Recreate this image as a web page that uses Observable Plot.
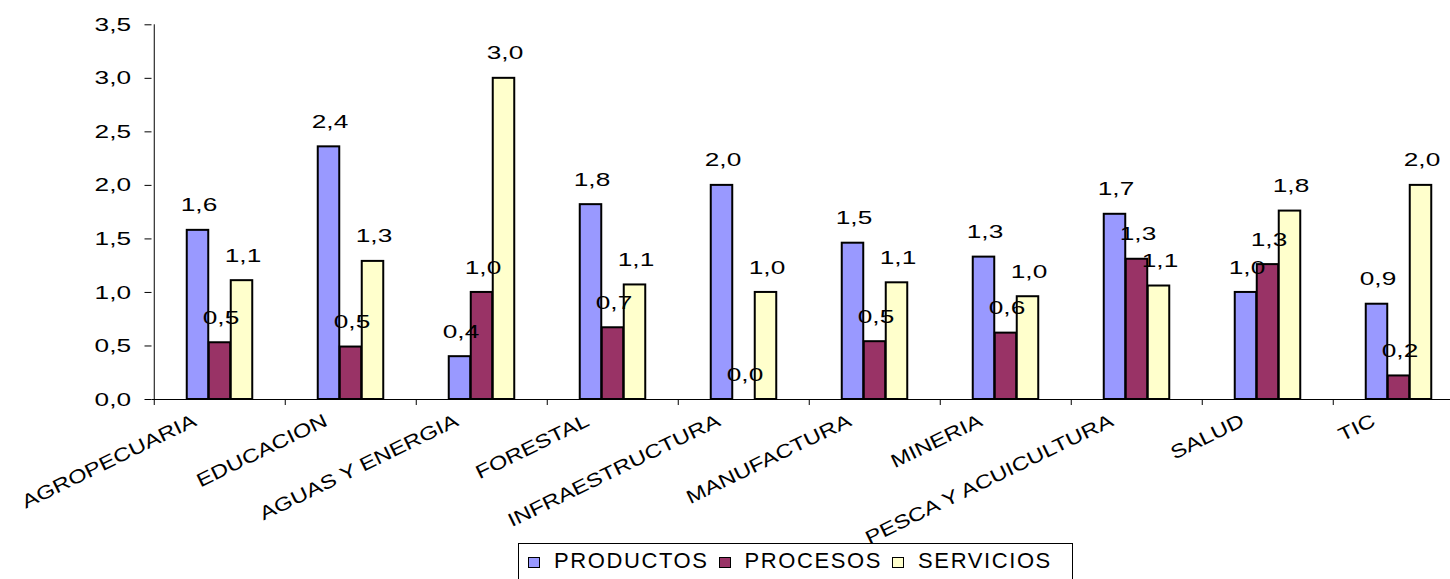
<!DOCTYPE html>
<html>
<head>
<meta charset="utf-8">
<script src="https://cdn.jsdelivr.net/npm/d3@7"></script>
<script src="https://cdn.jsdelivr.net/npm/@observablehq/plot@0.6"></script>
<style>
  html, body { margin: 0; padding: 0; background: #fff; overflow: hidden; width: 1450px; height: 579px; }
  #chart { position: absolute; left: 0; top: 0; }
  #legend {
    position: absolute; left: 518px; top: 543px; width: 555px; height: 44px;
    border: 1px solid #000; box-sizing: border-box; background: #fff;
    font-family: "Liberation Sans", Arial, sans-serif; font-size: 22px; line-height: 22px;
    padding: 6px 0 0 9px; white-space: nowrap; color: #000; letter-spacing: 1.6px;
  }
  #legend .sw { display: inline-block; width: 10px; height: 9px; border: 1.5px solid #000; vertical-align: baseline; margin-right: 14px; }
  #legend .it { margin-right: 10px; }
</style>
</head>
<body>
<div id="chart"></div>
<div id="legend"></div>
<script>
const categories = ["AGROPECUARIA", "EDUCACION", "AGUAS Y ENERGIA", "FORESTAL", "INFRAESTRUCTURA", "MANUFACTURA", "MINERIA", "PESCA Y ACUICULTURA", "SALUD", "TIC"];
const productos = [1.58, 2.36, 0.40, 1.82, 2.00, 1.46, 1.33, 1.73, 1.00, 0.89];
const procesos  = [0.53, 0.49, 1.00, 0.67, 0.00, 0.54, 0.62, 1.31, 1.26, 0.22];
const servicios = [1.11, 1.29, 3.00, 1.07, 1.00, 1.09, 0.96, 1.06, 1.76, 2.00];
const seriesNames = ["PRODUCTOS", "PROCESOS", "SERVICIOS"];
const seriesColors = ["#9999FF", "#993366", "#FFFFCC"];
const yTicks = [0, 0.5, 1.0, 1.5, 2.0, 2.5, 3.0, 3.5];

const data = categories.map((c, i) => ({cat: c, prod: productos[i], proc: procesos[i], serv: servicios[i]}));
const fmt = d => d.toFixed(1).replace(".", ",");

const xRange = [151.5, 1466.5];
const bw = (xRange[1] - xRange[0]) / categories.length;
const barW = 22;
const outer = (bw - 3 * barW) / 2;

const keys = ["prod", "proc", "serv"];
const barMarks = keys.map((k, j) => Plot.barY(data, {
  x: "cat", y: k, fill: seriesColors[j], stroke: "#000", strokeWidth: 2,
  insetLeft: outer + j * barW, insetRight: bw - outer - (j + 1) * barW
}));
const labelMarks = keys.map((k, j) => Plot.text(data, {
  x: "cat", y: k, text: d => fmt(d[k]), dx: (j - 1) * barW + 1, dy: -25,
  fontSize: 19, fill: "#000"
}));

const chart = Plot.plot({
  width: 1450, height: 543,
  marginLeft: 151.5, marginRight: 0, marginTop: 24.3, marginBottom: 144,
  style: {fontFamily: "'Liberation Sans', Arial, sans-serif", color: "#000", background: "#fff"},
  x: {domain: categories, range: xRange, padding: 0, axis: null},
  y: {domain: [0, 3.5], axis: null},
  marks: [
    Plot.ruleX([categories[0]], {x: d => d, y1: 3.5, y2: 0, dx: -bw / 2, insetBottom: -6, stroke: "#000", strokeWidth: 1}),
    Plot.ruleX(categories.slice(1), {x: d => d, y1: 0, y2: 0, dx: -bw / 2, insetBottom: -6, stroke: "#000", strokeWidth: 1}),
    Plot.axisY(yTicks, {anchor: "left", tickSize: 7, tickPadding: 14, tickFormat: fmt, fontSize: 19, stroke: "#000", label: null}),
    Plot.axisX(categories, {anchor: "bottom", tickSize: 0, tickPadding: 20, tickRotate: -26, dx: -25, fontSize: 19, label: null}),
    Plot.ruleY([0], {stroke: "#000", strokeWidth: 1}),
    ...barMarks,
    ...labelMarks
  ]
});
document.getElementById("chart").appendChild(chart);

function stretch(sel, s) {
  chart.querySelectorAll(sel).forEach(t => {
    const tr = t.getAttribute("transform") || "";
    t.setAttribute("transform", (tr + ` scale(${s},1)`).trim());
  });
}
stretch('g[aria-label="y-axis tick label"] text', 1.38);
stretch('g[aria-label="x-axis tick label"] text', 1.25);
stretch('g[aria-label="text"] text', 1.38);

const legend = document.getElementById("legend");
seriesNames.forEach((n, j) => {
  const sw = document.createElement("span");
  sw.className = "sw";
  sw.style.background = seriesColors[j];
  const it = document.createElement("span");
  it.className = "it";
  it.textContent = n;
  legend.appendChild(sw);
  legend.appendChild(it);
});
</script>
</body>
</html>
